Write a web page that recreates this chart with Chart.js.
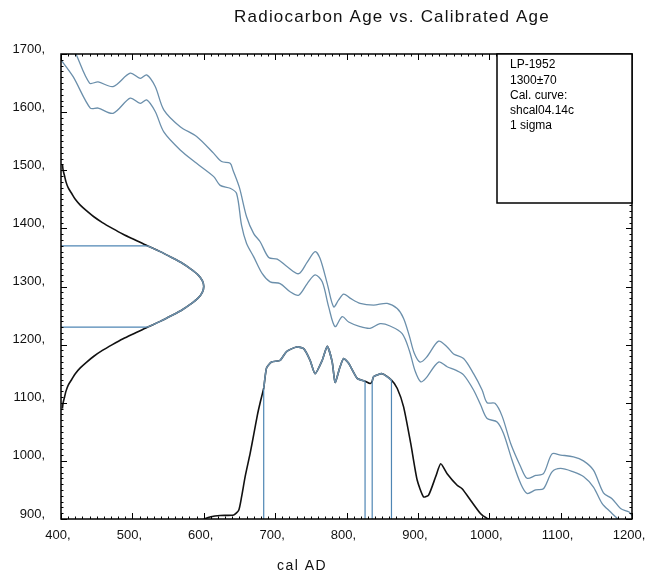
<!DOCTYPE html>
<html><head><meta charset="utf-8">
<script src="https://cdn.jsdelivr.net/npm/chart.js@4.4.1/dist/chart.umd.min.js"></script>
<style>html,body{margin:0;padding:0;background:#fff}</style>
</head><body>
<canvas id="c" width="651" height="577"></canvas>
<script>
// ---- text ----
const titleText = 'Radiocarbon Age vs. Calibrated Age';
const xAxisTitle = 'cal AD';
const infoLines = ['LP-1952', '1300\u00b170', 'Cal. curve:', 'shcal04.14c', '1 sigma'];

// ---- axes ----
const xMin = 400, xMax = 1200, xStep = 100;
const yMin = 900, yMax = 1700, yStep = 100;

// ---- calibration curve, upper 1-sigma band (cal AD, 14C age) ----
const calUpperX = [421,440,452,473,497,511,520,532,544,567,590,614,625,637,641,650,660,670,679,691,703,717,733,745,756,763,773,782,789,796,805,819,838,857,871,880,888,895,903,912,929,941,950,964,978,990,997,1008,1018,1030,1044,1053,1065,1076,1088,1100,1118,1132,1146,1160,1172,1184,1196,1200];
const calUpperY = [1700,1650,1652,1644,1667,1658,1664,1644,1604,1575,1558,1529,1515,1512,1500,1470,1420,1391,1377,1350,1347,1334,1322,1342,1360,1348,1305,1265,1277,1287,1280,1271,1268,1271,1262,1245,1215,1185,1170,1178,1206,1196,1184,1176,1150,1122,1100,1099,1077,1030,990,970,975,978,1012,1010,1007,1000,984,945,935,918,912,906];

// ---- calibration curve, lower 1-sigma band ----
const calLowerX = [400,417,441,452,473,497,511,520,532,544,567,590,614,623,637,646,653,660,670,682,693,707,721,733,745,756,766,775,784,794,803,819,833,847,861,878,888,896,904,911,929,941,953,964,978,988,997,1011,1020,1032,1044,1053,1065,1076,1088,1100,1118,1132,1146,1158,1170,1180];
const calLowerY = [1690,1661,1607,1607,1598,1624,1615,1621,1601,1566,1535,1512,1489,1474,1469,1460,1405,1374,1351,1322,1308,1305,1291,1285,1305,1320,1308,1265,1231,1248,1239,1231,1228,1236,1232,1219,1190,1155,1136,1142,1170,1162,1156,1148,1122,1096,1073,1067,1047,1001,961,944,950,952,981,987,981,973,955,927,912,900];

// ---- measured age distribution (drawn along the y axis) ----
const gaussAge = [1090,1100,1110,1120,1130,1140,1150,1160,1170,1180,1190,1200,1210,1220,1230,1240,1250,1260,1270,1280,1290,1300,1310,1320,1330,1340,1350,1360,1370,1380,1390,1400,1410,1420,1430,1440,1450,1460,1470,1480,1490,1500,1510];
const gaussX   = [402,403,405,407,410,415,420,427,436,446,458,472,487,504,521,539,555,570,582,592,598,600,598,592,582,570,555,539,521,504,487,472,458,446,436,427,420,415,410,407,405,403,402];
const sigmaAge = [1230, 1370];
const sigmaEndX = [521, 521];

// ---- calibrated distribution (drawn along the x axis) ----
const distX = [600,610,623,642,649,653,658,665,670,675,679,684,688,695,707,716,730,740,749,756,766,773,780,784,791,796,803,815,826,833,836,838,850,863,871,880,890,899,908,915,925,932,941,955,962,974,988,997,1000];
const distY = [900,904,906,907,915,938,973,1013,1045,1078,1100,1125,1160,1170,1173,1188,1196,1193,1173,1150,1173,1197,1170,1135,1162,1176,1168,1142,1137,1133,1137,1145,1150,1139,1125,1093,1030,967,938,941,973,995,978,958,952,932,909,901,900];
// 1-sigma calibrated ranges: [684-826], [836-863]
const rangeFrom = [684, 836];
const rangeTo   = [826, 863];
const rangeBoundX   = [684, 826, 836, 863];
const rangeBoundTop = [1125, 1137, 1137, 1139];

// ---- styles ----
const calColor = '#6b8fab';
const sigColor = '#4f86b4';
const inkColor = '#111111';

const pts = (xs, ys) => xs.map((x, i) => ({x, y: ys[i]}));
const distPts = pts(distX, distY);
const gaussPts = pts(gaussX, gaussAge);

const datasets = [];
const line = (data, color, w, order, tension) => ({data, borderColor: color, borderWidth: w, showLine: true, pointRadius: 0, fill: false, tension: tension || 0, order});
datasets.push(line(pts(calUpperX, calUpperY), calColor, 1.3, 5, 0.3));
datasets.push(line(pts(calLowerX, calLowerY), calColor, 1.3, 5, 0.3));
datasets.push(line(gaussPts, inkColor, 1.6, 10, 0.3));
datasets.push(line(gaussPts.filter(p => p.y >= sigmaAge[0] && p.y <= sigmaAge[1]), calColor, 1.6, 1, 0.3));
sigmaAge.forEach((a, i) => datasets.push(line([{x: xMin, y: a}, {x: sigmaEndX[i], y: a}], sigColor, 1.2, 2)));
datasets.push(line(distPts, inkColor, 1.6, 10, 0.2));
rangeFrom.forEach((f, i) => datasets.push(line(distPts.filter(p => p.x >= f && p.x <= rangeTo[i]), calColor, 1.6, 1, 0.2)));
rangeBoundX.forEach((bx, i) => datasets.push(line([{x: bx, y: yMin}, {x: bx, y: rangeBoundTop[i]}], sigColor, 1.2, 2)));

const framePlugin = {
  id: 'frame',
  afterDraw(chart) {
    const {ctx, chartArea: a, scales: {x, y}} = chart;
    ctx.save();
    ctx.strokeStyle = '#000';
    ctx.lineWidth = 1.5;
    ctx.strokeRect(a.left, a.top, a.right - a.left, a.bottom - a.top);
    ctx.lineWidth = 1;
    ctx.beginPath();
    for (let v = xMin; v <= xMax; v += 10) {
      const px = Math.round(x.getPixelForValue(v)) + 0.5;
      const L = (v % 100 === 0) ? 6 : 2.5;
      ctx.moveTo(px, a.bottom); ctx.lineTo(px, a.bottom - L);
      ctx.moveTo(px, a.top); ctx.lineTo(px, a.top + L);
    }
    for (let v = yMin; v <= yMax; v += 10) {
      const py = Math.round(y.getPixelForValue(v)) + 0.5;
      const L = (v % 100 === 0) ? 6 : 2.5;
      ctx.moveTo(a.left, py); ctx.lineTo(a.left + L, py);
      ctx.moveTo(a.right, py); ctx.lineTo(a.right - L, py);
    }
    ctx.stroke();
    // info box
    const bw = 135, bh = 149;
    ctx.fillStyle = '#fff';
    ctx.fillRect(a.right - bw, a.top, bw, bh);
    ctx.lineWidth = 1.5;
    ctx.strokeRect(a.right - bw, a.top, bw, bh);
    ctx.fillStyle = '#000';
    ctx.font = '12px "Liberation Sans", Arial, sans-serif';
    ctx.textBaseline = 'middle';
    ctx.textAlign = 'left';
    infoLines.forEach((t, i) => ctx.fillText(t, a.right - bw + 13, a.top + 11 + i * 15.2));
    // title and axis title
    ctx.fillStyle = '#111';
    ctx.textAlign = 'center';
    try { ctx.letterSpacing = '1.2px'; } catch (e) {}
    ctx.font = '17px "Liberation Sans", Arial, sans-serif';
    ctx.fillText(titleText, 392, 17);
    try { ctx.letterSpacing = '1.5px'; } catch (e) {}
    ctx.font = '14px "Liberation Sans", Arial, sans-serif';
    ctx.fillText(xAxisTitle, 302, 566);
    ctx.restore();
  }
};

new Chart(document.getElementById('c'), {
  type: 'scatter',
  data: {datasets},
  options: {
    responsive: false,
    animation: false,
    devicePixelRatio: 1,
    layout: {padding: {top: 54, right: 19, left: 0, bottom: 0}},
    plugins: {legend: {display: false}, tooltip: {enabled: false}, title: {display: false}},
    scales: {
      x: {
        type: 'linear', min: xMin, max: xMax,
        afterFit(s) { s.height = 58; s.paddingLeft = 0; s.paddingRight = 0; },
        grid: {display: false, drawTicks: false, tickLength: 0},
        border: {display: false},
        ticks: {stepSize: xStep, autoSkip: false, maxRotation: 0, padding: 9, labelOffset: -3,
          color: '#111', font: {family: '"Liberation Sans", Arial, sans-serif', size: 13},
          callback: v => v + ','}
      },
      y: {
        type: 'linear', min: yMin, max: yMax,
        afterFit(s) { s.width = 61; s.paddingTop = 0; s.paddingBottom = 0; },
        grid: {display: false, drawTicks: false, tickLength: 0},
        border: {display: false},
        ticks: {stepSize: yStep, autoSkip: false, padding: 16, labelOffset: -5,
          color: '#111', font: {family: '"Liberation Sans", Arial, sans-serif', size: 13},
          callback: v => v + ','}
      }
    }
  },
  plugins: [framePlugin]
});
</script>
</body></html>
